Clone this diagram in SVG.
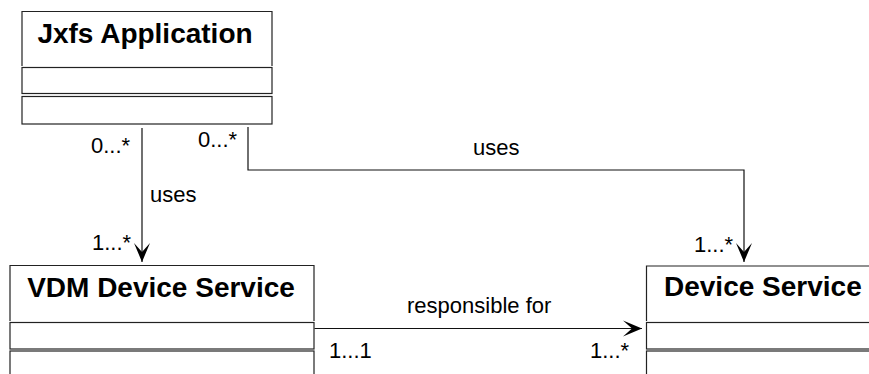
<svg xmlns="http://www.w3.org/2000/svg" width="869" height="374" viewBox="0 0 869 374">
<style>
.box{fill:none;stroke:#222;stroke-width:1.2}
.title{font-family:"Liberation Sans",Arial,sans-serif;font-weight:bold;font-size:28px;fill:#000}
.lbl{font-family:"Liberation Sans",Arial,sans-serif;font-size:22px;fill:#000}
.conn{fill:none;stroke:#111;stroke-width:1.2}
</style>
<defs>
<marker id="arr" markerUnits="userSpaceOnUse" viewBox="-20 -9 21 18" markerWidth="21" markerHeight="18" refX="0" refY="0" orient="auto" overflow="visible">
<path d="M0,0 L-19,-8 L-10,0 L-19,8 Z" fill="#000"/>
</marker>
</defs>
<rect width="869" height="374" fill="#fff"/>
<g id="jxfs">
<path class="box" d="M22,66 V11.5 H272 V66"/>
<rect class="box" x="22" y="67.5" width="250" height="26"/>
<rect class="box" x="22" y="96.5" width="250" height="27.5"/>
<text class="title" x="145" y="43" text-anchor="middle">Jxfs Application</text>
</g>
<g id="vdm">
<path class="box" d="M10,321 V265.5 H314 V321"/>
<rect class="box" x="10" y="322.5" width="304" height="26.5"/>
<rect class="box" x="10" y="351" width="304" height="30"/>
<text class="title" x="161" y="297" text-anchor="middle">VDM Device Service</text>
</g>
<g id="device">
<path class="box" d="M646.5,321 V266 H880"/>
<rect class="box" x="646.5" y="322.5" width="240" height="26.5"/>
<rect class="box" x="646.5" y="351" width="240" height="30"/>
<text class="title" x="664" y="296">Device Service</text>
</g>
<g id="connectors">
<path class="conn" d="M142,128 V262" marker-end="url(#arr)"/>
<path class="conn" d="M248,127 V170 H744 V262" marker-end="url(#arr)"/>
<path class="conn" d="M314.5,328.5 H642" marker-end="url(#arr)"/>
<text class="lbl" x="91" y="153">0...*</text>
<text class="lbl" x="198" y="147">0...*</text>
<text class="lbl" x="150" y="202">uses</text>
<text class="lbl" x="92" y="250">1...*</text>
<text class="lbl" x="473" y="155">uses</text>
<text class="lbl" x="694" y="252">1...*</text>
<text class="lbl" x="407" y="313">responsible for</text>
<text class="lbl" x="329" y="358">1...1</text>
<text class="lbl" x="590" y="358">1...*</text>
</g>
</svg>
